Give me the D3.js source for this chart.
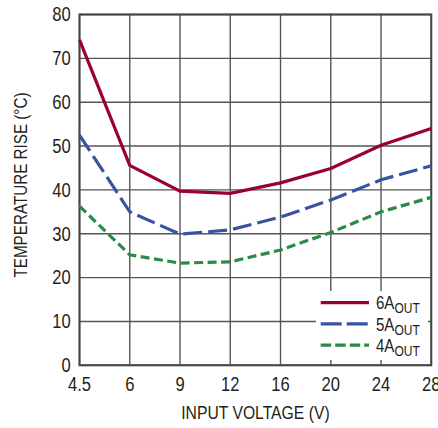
<!DOCTYPE html>
<html>
<head>
<meta charset="utf-8">
<script src="https://cdn.jsdelivr.net/npm/d3@7"></script>
<style>
  body { margin: 0; background: #fff; }
  svg text { font-family: "Liberation Sans", Arial, sans-serif; fill: #231f20; }
</style>
</head>
<body>
<div id="chart"></div>
<script>
// input voltage categories (evenly spaced on the chart)
var voltages = ["4.5", "6", "9", "12", "16", "20", "24", "28"];
var yTicks = [0, 10, 20, 30, 40, 50, 60, 70, 80];

// temperature rise readings, one per voltage
var rise6A = [74.2, 45.6, 39.7, 39.2, 41.6, 44.9, 50.2, 54.0];
var rise5A = [52.5, 35.0, 29.9, 30.9, 33.8, 37.7, 42.3, 45.5];
var rise4A = [36.3, 25.2, 23.3, 23.6, 26.3, 30.3, 35.0, 38.3];

var seriesNames = ["6A", "5A", "4A"];

var width = 438;
var height = 428;
var margin = { top: 14.5, right: 6.7, bottom: 62.7, left: 79.5 };

var series = [
    { name: seriesNames[0], values: rise6A, color: "#9a0036", dash: null, key: null },
    { name: seriesNames[1], values: rise5A, color: "#3853a4", dash: "19,6", key: "21,5" },
    { name: seriesNames[2], values: rise4A, color: "#2a8a47", dash: "9,4.5", key: "10.5,4" }
];

var svg = d3.select("#chart").append("svg")
    .attr("width", width)
    .attr("height", height);

var x = d3.scalePoint()
    .domain(voltages)
    .range([margin.left, width - margin.right]);

var y = d3.scaleLinear()
    .domain([0, 80])
    .range([height - margin.bottom, margin.top]);

// the original lettering is a condensed face, so squeeze it sideways
function place(px, py, sx) {
    return "translate(" + px + "," + py + ") scale(" + sx + ",1)";
}

// grid lines
svg.append("g")
    .selectAll("line.vgrid")
    .data(voltages)
    .enter().append("line")
    .attr("x1", function (d) { return x(d); })
    .attr("x2", function (d) { return x(d); })
    .attr("y1", y(0))
    .attr("y2", y(80))
    .attr("stroke", "#555")
    .attr("stroke-width", 1.4);

svg.append("g")
    .selectAll("line.hgrid")
    .data(yTicks)
    .enter().append("line")
    .attr("x1", x(voltages[0]))
    .attr("x2", x(voltages[voltages.length - 1]))
    .attr("y1", function (d) { return y(d); })
    .attr("y2", function (d) { return y(d); })
    .attr("stroke", "#555")
    .attr("stroke-width", 1.4);

// frame
svg.append("rect")
    .attr("x", x(voltages[0]))
    .attr("y", y(80))
    .attr("width", x(voltages[voltages.length - 1]) - x(voltages[0]))
    .attr("height", y(0) - y(80))
    .attr("fill", "none")
    .attr("stroke", "#444")
    .attr("stroke-width", 2);

// data lines
var line = d3.line()
    .x(function (d, i) { return x(voltages[i]); })
    .y(function (d) { return y(d); });

svg.append("g")
    .selectAll("path")
    .data(series)
    .enter().append("path")
    .attr("d", function (d) { return line(d.values); })
    .attr("fill", "none")
    .attr("stroke", function (d) { return d.color; })
    .attr("stroke-width", 3.2)
    .attr("stroke-dasharray", function (d) { return d.dash; });

// tick labels
svg.append("g")
    .selectAll("text")
    .data(voltages)
    .enter().append("text")
    .attr("transform", function (d) { return place(x(d), 390.5, 0.86); })
    .attr("text-anchor", "middle")
    .attr("font-size", 19.3)
    .text(function (d) { return d; });

svg.append("g")
    .selectAll("text")
    .data(yTicks)
    .enter().append("text")
    .attr("transform", function (d) { return place(70.7, y(d) + 6.8, 0.86); })
    .attr("text-anchor", "end")
    .attr("font-size", 19.3)
    .text(function (d) { return d; });

// axis titles
svg.append("text")
    .attr("transform", place((x(voltages[0]) + x(voltages[voltages.length - 1])) / 2, 419, 0.85))
    .attr("text-anchor", "middle")
    .attr("font-size", 18.5)
    .text("INPUT VOLTAGE (V)");

svg.append("text")
    .attr("transform", "translate(26.7,185) rotate(-90) scale(0.87,1)")
    .attr("text-anchor", "middle")
    .attr("font-size", 17.5)
    .text("TEMPERATURE RISE (°C)");

// legend
var legend = svg.append("g");

legend.append("rect")
    .attr("x", 316)
    .attr("y", 291)
    .attr("width", 112)
    .attr("height", 69)
    .attr("fill", "#fff");

var rows = legend.selectAll("g.row")
    .data(series)
    .enter().append("g")
    .attr("transform", function (d, i) { return "translate(0," + (302.7 + i * 21.2) + ")"; });

rows.append("line")
    .attr("x1", 320.7)
    .attr("x2", 369)
    .attr("stroke", function (d) { return d.color; })
    .attr("stroke-width", 3.2)
    .attr("stroke-dasharray", function (d) { return d.key; });

var label = rows.append("text")
    .attr("transform", place(376, 6.6, 0.86))
    .attr("font-size", 17.5);

label.append("tspan").text(function (d) { return d.name; });
label.append("tspan")
    .attr("dy", 4)
    .attr("font-size", 14)
    .text("OUT");
</script>
</body>
</html>
